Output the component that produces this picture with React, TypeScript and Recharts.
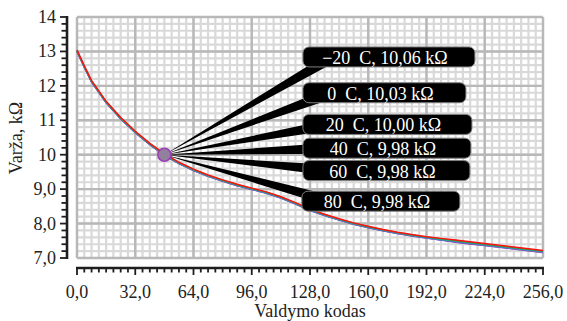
import React from "react";
import { LineChart, Line, XAxis, YAxis, CartesianGrid, ReferenceLine, ReferenceDot } from "recharts";

// control code (x) and measured resistance, kOhm, per temperature
const codes = [0, 4, 8, 16, 24, 32, 40, 48, 56, 64, 72, 80, 88, 96, 104, 112, 120, 128, 136, 144, 152, 160, 168, 176, 184, 192, 200, 208, 216, 224, 232, 240, 248, 256];
const tMinus20 = [13.04, 12.58, 12.15, 11.55, 11.08, 10.68, 10.33, 10.03, 9.78, 9.58, 9.41, 9.27, 9.14, 9.03, 8.92, 8.78, 8.61, 8.42, 8.27, 8.14, 8.02, 7.92, 7.83, 7.75, 7.68, 7.62, 7.57, 7.52, 7.47, 7.42, 7.37, 7.32, 7.27, 7.22];
const t0 = [13.03, 12.57, 12.14, 11.54, 11.07, 10.67, 10.32, 10.01, 9.77, 9.57, 9.4, 9.26, 9.13, 9.02, 8.91, 8.77, 8.6, 8.41, 8.26, 8.13, 8.01, 7.91, 7.82, 7.74, 7.67, 7.61, 7.55, 7.5, 7.45, 7.4, 7.35, 7.3, 7.25, 7.2];
const t20 = [13.02, 12.56, 12.13, 11.53, 11.06, 10.66, 10.31, 10.0, 9.76, 9.56, 9.39, 9.25, 9.12, 9.01, 8.9, 8.76, 8.59, 8.4, 8.25, 8.12, 8.0, 7.9, 7.81, 7.73, 7.66, 7.6, 7.54, 7.49, 7.44, 7.39, 7.34, 7.29, 7.24, 7.19];
const t40 = [13.01, 12.55, 12.12, 11.52, 11.05, 10.65, 10.3, 9.99, 9.75, 9.55, 9.38, 9.24, 9.11, 9.0, 8.89, 8.75, 8.58, 8.39, 8.24, 8.11, 7.99, 7.89, 7.8, 7.72, 7.65, 7.59, 7.53, 7.48, 7.43, 7.38, 7.33, 7.28, 7.23, 7.18];
const t60 = [13.01, 12.55, 12.12, 11.52, 11.05, 10.65, 10.3, 9.99, 9.75, 9.55, 9.38, 9.24, 9.11, 9.0, 8.89, 8.75, 8.58, 8.39, 8.24, 8.11, 7.99, 7.89, 7.8, 7.72, 7.65, 7.58, 7.52, 7.47, 7.42, 7.37, 7.32, 7.27, 7.22, 7.17];
const t80 = [13.0, 12.54, 12.11, 11.51, 11.04, 10.64, 10.29, 9.98, 9.74, 9.54, 9.37, 9.23, 9.1, 8.99, 8.88, 8.74, 8.57, 8.38, 8.23, 8.1, 7.98, 7.88, 7.79, 7.71, 7.64, 7.58, 7.52, 7.46, 7.41, 7.36, 7.31, 7.26, 7.21, 7.16];

const xTickLabels = ["0,0", "32,0", "64,0", "96,0", "128,0", "160,0", "192,0", "224,0", "256,0"];
const yTickLabels = ["7,0", "8,0", "9,0", "10", "11", "12", "13", "14"];
const xMajor = [0, 32, 64, 96, 128, 160, 192, 224, 256];
const yMajor = [7, 8, 9, 10, 11, 12, 13, 14];

// callouts: text and where the leader ends (data units)
const calloutTexts = ["−20  C, 10,06 kΩ", "0  C, 10,03 kΩ", "20  C, 10,00 kΩ", "40  C, 9,98 kΩ", "60  C, 9,98 kΩ", "80  C, 9,98 kΩ"];
const calloutX = [140.6, 140.6, 140.6, 140.6, 140.6, 140.0];
const calloutY = [12.84, 11.8, 10.88, 10.19, 9.54, 8.65];
const calloutW = [172, 163, 169, 168, 167, 158];
const sharedPoint = { code: 48, value: 10 };

const series = [
  { key: "t80", values: t80, color: "#7030a0" },
  { key: "t60", values: t60, color: "#9966cc" },
  { key: "t40", values: t40, color: "#4a6fd0" },
  { key: "t20", values: t20, color: "#3399cc" },
  { key: "t0", values: t0, color: "#22a844" },
  { key: "tMinus20", values: tMinus20, color: "#ff1010" },
];

const data = codes.map((c, i) => {
  const row: Record<string, number> = { code: c };
  series.forEach((s) => (row[s.key] = s.values[i]));
  return row;
});

const xTicks = Array.from({ length: 65 }, (_, i) => i * 4);
const yTicks = Array.from({ length: 36 }, (_, i) => +(7 + i * 0.2).toFixed(1));

const W = 567;
const H = 321;
const M = { top: 17, right: 24, left: 0, bottom: 0 };
const Y_W = 77;
const X_H = 63;
const PLOT_W = W - M.right - Y_W;
const PLOT_H = H - M.top - X_H;
const GAP = 10;
const FONT = "'Liberation Serif', 'Times New Roman', serif";
const AXIS = "#1e1e1e";

const XTick = (p: any) => {
  const { x, y, payload, index } = p;
  const v = payload.value as number;
  const major = v % 32 === 0;
  const ay = y + GAP;
  return (
    <g>
      {index === 0 && <line x1={x - 1} x2={x + PLOT_W + 1} y1={ay} y2={ay} stroke={AXIS} strokeWidth={2.6} />}
      <line x1={x} x2={x} y1={ay} y2={ay + (major ? 7 : 4.5)} stroke={AXIS} strokeWidth={1.8} />
      {major && (
        <text x={x} y={ay + 30} textAnchor="middle" fontFamily={FONT} fontSize={18} fill="#222">
          {xTickLabels[v / 32]}
        </text>
      )}
    </g>
  );
};

const YTick = (p: any) => {
  const { x, y, payload, index } = p;
  const v = payload.value as number;
  const major = Math.abs(v - Math.round(v)) < 1e-6;
  const ax = x - GAP;
  return (
    <g>
      {index === 0 && <line x1={ax} x2={ax} y1={y + 1} y2={y - PLOT_H - 1} stroke={AXIS} strokeWidth={2.6} />}
      <line x1={ax} x2={ax - (major ? 7 : 5.5)} y1={y} y2={y} stroke={AXIS} strokeWidth={1.8} />
      {major && (
        <text x={ax - 11} y={y + 6} textAnchor="end" fontFamily={FONT} fontSize={18} fill="#222">
          {yTickLabels[Math.round(v) - 7]}
        </text>
      )}
    </g>
  );
};

const Callout = (p: any) => {
  const { x1, y1, x2, y2, text, w } = p;
  const dx = x2 - x1;
  const dy = y2 - y1;
  const len = Math.hypot(dx, dy) || 1;
  const nx = -dy / len;
  const ny = dx / len;
  const half = 5.5;
  const pts = `${x1},${y1} ${x2 + nx * half},${y2 + ny * half} ${x2 - nx * half},${y2 - ny * half}`;
  const rx = x2 - 30;
  const ry = y2 - 10;
  return (
    <g>
      <polygon points={pts} fill="#000" />
      <rect x={rx} y={ry} width={w} height={20} rx={6} fill="#000" stroke="#7f7f7f" strokeWidth={1} />
      <text x={rx + w / 2 - 4} y={ry + 17} textAnchor="middle" fontFamily={FONT} fontSize={18} fill="#fff" style={{ whiteSpace: "pre" }}>
        {text}
      </text>
    </g>
  );
};

export default function App() {
  return (
    <div style={{ position: "absolute", left: 0, top: 0, width: W, height: H, background: "#fff" }}>
      <LineChart width={W} height={H} data={data} margin={M}>
        <CartesianGrid stroke="#d9d9d9" strokeWidth={2.2} />
        <XAxis
          dataKey="code"
          type="number"
          domain={[0, 256]}
          ticks={xTicks}
          interval={0}
          height={X_H}
          axisLine={false}
          tickLine={false}
          tickSize={0}
          tickMargin={0}
          tick={(p: any) => <XTick {...p} />}
          label={(p: any) => {
            const vb = p.viewBox || { x: Y_W, width: PLOT_W };
            return (
              <text x={vb.x + vb.width / 2} y={317} textAnchor="middle" fontFamily={FONT} fontSize={18} fill="#222">
                Valdymo kodas
              </text>
            );
          }}
        />
        <YAxis
          type="number"
          domain={[7, 14]}
          ticks={yTicks}
          interval={0}
          width={Y_W}
          axisLine={false}
          tickLine={false}
          tickSize={0}
          tickMargin={0}
          tick={(p: any) => <YTick {...p} />}
          label={() => (
            <text x={22} y={138} transform="rotate(-90 22 138)" textAnchor="middle" fontFamily={FONT} fontSize={18} fill="#222">
              Varža, kΩ
            </text>
          )}
        />
        {xMajor.map((v) => (
          <ReferenceLine key={"vx" + v} x={v} stroke="#b8b8b8" strokeWidth={2.4} />
        ))}
        {yMajor.map((v) => (
          <ReferenceLine key={"hy" + v} y={v} stroke="#b8b8b8" strokeWidth={2.4} />
        ))}
        {series.map((s) => (
          <Line key={s.key} dataKey={s.key} type="linear" stroke={s.color} strokeWidth={1.5} dot={false} isAnimationActive={false} />
        ))}
        <ReferenceDot x={sharedPoint.code} y={sharedPoint.value} r={6.5} fill="#93809f" stroke="#9b3fb5" strokeWidth={1.6} />
        {calloutTexts.map((t, i) => (
          <ReferenceLine
            key={"c" + i}
            segment={[
              { x: sharedPoint.code, y: sharedPoint.value },
              { x: calloutX[i], y: calloutY[i] },
            ]}
            shape={(p: any) => <Callout {...p} text={t} w={calloutW[i]} />}
          />
        ))}
      </LineChart>
    </div>
  );
}
